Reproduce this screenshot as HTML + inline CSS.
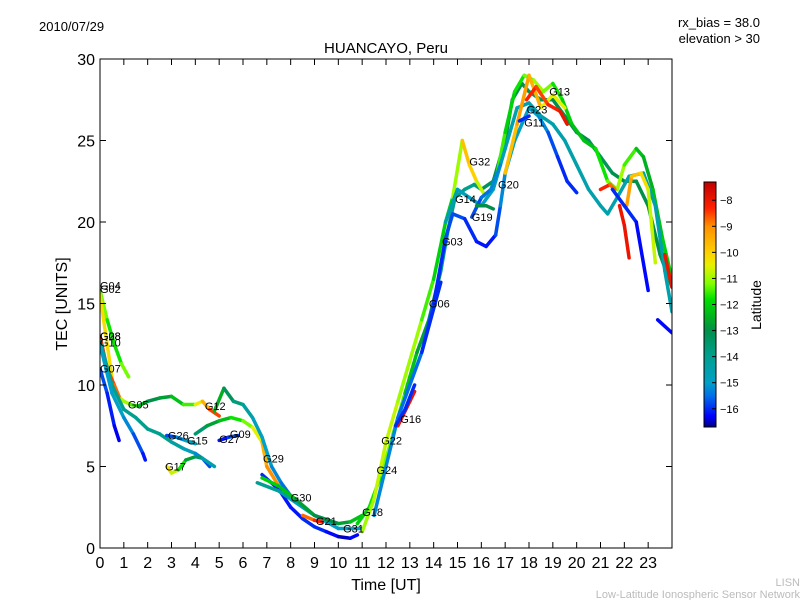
<!DOCTYPE html>
<html><head><meta charset="utf-8"><style>
body{margin:0;background:#fff;}
svg text{font-family:"Liberation Sans",sans-serif;}
</style></head><body>
<svg id="chart" width="800" height="600" xmlns="http://www.w3.org/2000/svg">
<rect width="800" height="600" fill="#fff"/>
<text x="39" y="31" font-size="13">2010/07/29</text>
<text x="760" y="27" font-size="13" text-anchor="end">rx_bias = 38.0</text>
<text x="760" y="43" font-size="13" text-anchor="end">elevation &gt; 30</text>
<text x="386" y="53" font-size="15" text-anchor="middle">HUANCAYO, Peru</text>
<text x="386" y="590" font-size="16" text-anchor="middle">Time [UT]</text>
<text x="67" y="304" font-size="16" text-anchor="middle" transform="rotate(-90 67 304)">TEC [UNITS]</text>
<text x="800" y="586" font-size="11" fill="#bbb" text-anchor="end">LISN</text>
<text x="800" y="598" font-size="11" fill="#bbb" text-anchor="end">Low-Latitude Ionospheric Sensor Network</text>
<defs><clipPath id="pc"><rect x="100" y="59" width="572" height="489"/></clipPath>
<linearGradient id="cbg" x1="0" y1="1" x2="0" y2="0"></linearGradient></defs>
<g id="series" clip-path="url(#pc)"></g>
<g id="labels"></g>
<rect x="100" y="59" width="572" height="489" fill="none" stroke="#000" stroke-width="1"/>
<g id="axes"></g>
<rect x="704" y="182" width="12" height="245" fill="url(#cbg)" stroke="#000" stroke-width="1"/>
<text x="761" y="305" font-size="14" text-anchor="middle" transform="rotate(-90 761 305)">Latitude</text>
<g id="cbticks"></g>
</svg>
<script>
const xTicks=[0,1,2,3,4,5,6,7,8,9,10,11,12,13,14,15,16,17,18,19,20,21,22,23];
const yTicks=[0,5,10,15,20,25,30];
const cbTicks=[-8,-9,-10,-11,-12,-13,-14,-15,-16];
const latMin=-16.7, latMax=-7.3;
const trackG04=[[0,15.8,-11],[0.3,14,-11.5],[0.6,12.5,-12],[0.9,11.3,-11.5],[1.2,10.5,-11]];
const trackG05=[[0,15.5,-10.5],[0.3,12.5,-10],[0.6,9.5,-10.5],[1,9,-11],[1.3,8.8,-11],[1.6,8.7,-12],[2,9,-13],[2.5,9.2,-13],[3,9.3,-12.5],[3.5,8.8,-12],[4,8.8,-11],[4.3,9,-10],[4.6,8.5,-9],[5,8.1,-8]];
const trackG08=[[0,13,-8],[0.3,11,-8.5],[0.6,10,-8.5],[0.8,9.3,-9]];
const trackG10=[[0,12.7,-14],[0.5,10,-14],[1,8.5,-14],[1.5,8,-14],[2,7.3,-14],[2.5,7,-14],[3,6.5,-14],[3.5,6.1,-14.5],[4,5.8,-15],[4.3,5.5,-15.5],[4.6,5,-16]];
const trackG07=[[0,11,-15.5],[0.3,9.5,-16],[0.6,7.5,-16.2],[0.8,6.6,-16.5]];
const trackG28=[[0,12.5,-15],[0.5,9.5,-15],[1,8,-15],[1.4,7,-15.5],[1.8,5.8,-16],[1.9,5.4,-16.3]];
const trackG17=[[2.8,5,-10],[3,4.6,-10.5],[3.3,4.8,-11],[3.6,5.4,-12.5],[4,5.6,-13],[4.3,5.5,-14],[4.8,5,-15]];
const trackG26=[[2.8,6.9,-16],[3.2,6.8,-15.5],[3.6,6.6,-15],[4,6.4,-14.5]];
const trackG15=[[4,7,-14],[4.5,7.5,-13],[5,7.8,-12.5],[5.5,8,-12],[6,7.8,-11.5],[6.4,7.4,-11],[6.8,6.5,-10],[7,5,-9],[7.5,3.8,-9],[8,3,-10]];
const trackG09=[[4.8,8.4,-12],[5.2,9.8,-13],[5.6,9,-13.5],[6,8.8,-14],[6.4,8,-14.5],[6.8,6.8,-15],[7.2,5,-15],[7.6,4,-15.5],[8,3.2,-15.5]];
const trackG27=[[5,6.6,-16.3],[5.4,6.8,-16],[5.8,6.9,-15.5]];
const trackG30=[[6.8,4.5,-16],[7.5,3.6,-16],[8,2.5,-16.3],[8.5,1.8,-16],[9,1.3,-16],[9.5,1,-16],[10,0.7,-16.5],[10.5,0.6,-16.5],[10.8,0.8,-16]];
const trackG29=[[6.6,4,-14],[7.5,3.5,-14],[8,3,-14.5],[9,2,-15],[10,1.2,-15],[11,1.2,-15]];
const trackG31=[[6.8,4.3,-12],[7.5,3.8,-12],[8.2,3,-12.5],[9,2,-13],[10,1.5,-13],[10.5,1.6,-12.5],[11,2,-12]];
const trackG21=[[8.5,2,-9],[9,1.7,-8.5],[9.3,1.6,-8]];
const trackG18=[[10.8,1.5,-12],[11.3,2.5,-12],[11.8,4.5,-11.5],[12.3,7,-11],[12.8,9.5,-12],[13.3,12,-12.5],[13.8,14,-13],[14.3,17,-13.5],[14.6,19.5,-14],[14.9,21.5,-14],[15.3,22,-14],[15.7,22.3,-14],[16,22,-13.5],[16.5,22.5,-13],[17,25,-13],[17.3,27.5,-13],[17.7,28.5,-13],[18,28,-13],[18.5,27.5,-13.5],[19,27.5,-13],[19.5,26.5,-13],[20,25.5,-13],[20.5,25,-13],[21,24,-13.5],[21.5,23,-13],[22,22.5,-13],[22.5,22.5,-13],[23,21,-13],[23.5,18,-13],[24,16,-13]];
const trackG24=[[11,1,-11],[11.5,3,-11],[12,6.5,-10.5],[12.5,9,-11],[13,11.5,-11],[13.5,14,-11],[14,16.5,-12],[14.5,20,-12],[14.8,21.5,-12],[15.2,25,-10],[15.5,23.5,-9.5],[15.8,22.5,-10.5],[16.2,21.5,-11],[16.6,22.5,-11],[17,25.5,-12],[17.4,28,-12],[17.8,29,-11.5],[18.2,28.7,-11],[18.6,28,-11],[19,28.5,-11.5],[19.4,27.5,-12],[19.8,26,-12],[20.3,25,-12.5],[20.8,24.5,-12],[21.3,22.5,-11.5],[21.7,22,-11],[22,23.5,-11],[22.5,24.5,-12],[22.8,24,-12.5],[23.2,22,-12.5],[23.6,19,-12],[24,16.5,-12]];
const trackG03=[[11.5,2,-15],[12.5,8,-15.5],[13.5,12,-15.5],[14,15,-16],[14.5,19,-16],[14.8,20.5,-15.5],[15.3,20.2,-16],[15.8,18.8,-16],[16.2,18.5,-16.3],[16.6,19.2,-16],[16.8,21,-15.5],[17,23,-15],[17.4,25,-15],[17.7,26,-15],[18,27,-15],[18.4,26.5,-15],[18.8,25.5,-15.5],[19.2,24,-16],[19.6,22.5,-16],[20,21.8,-16]];
const trackG14=[[14.5,20,-14.5],[15,22,-14.5],[15.5,21.5,-15],[16,21,-15],[16.5,22,-15],[17,24.5,-14.5],[17.5,27,-14.5],[18,27.3,-14.5],[18.5,26.5,-14.5],[19,26,-14.5],[19.5,25,-14.5],[20,23.5,-14.5],[20.5,22,-14.5],[21,21,-14.5],[21.3,20.5,-14.5],[21.7,21.5,-14.5],[22.2,22.8,-14.5],[22.8,23,-14.5],[23.3,21,-14.5],[23.7,17,-14.5],[24,14.5,-14.5]];
const trackG06=[[13.5,12,-16],[14.3,16.3,-16]];
const trackG16a=[[12.5,7.5,-8],[13,9,-8],[13.2,9.6,-8]];
const trackG16b=[[12.4,7.5,-16],[12.8,8.5,-16],[13.2,10,-16]];
const trackG19=[[15.6,20.3,-16],[16,21.5,-15.5],[16.4,22,-15.5],[16.8,23.5,-15]];
const trackG20=[[15.8,21,-13],[16.2,21,-13],[16.5,20.8,-13]];
const trackG23=[[17,23,-10],[17.5,26,-9.5],[18,29,-9],[18.5,27,-10],[19,27.8,-11],[19.5,27,-10]];
const trackG13=[[17.9,27.5,-8],[18.3,28.3,-8.5],[18.8,27.2,-8.5],[19.3,26.8,-8],[19.6,26,-8]];
const trackG11=[[17.6,26.2,-16],[18,26.5,-16]];
const trackR1=[[21,22,-8],[21.4,22.3,-8.5],[21.6,22,-9]];
const trackR2=[[21.8,21,-8],[22,19.8,-8],[22.2,17.8,-8]];
const trackY1=[[22.1,21,-9],[22.3,22.8,-9.5],[22.7,23,-10],[23,22,-10.5],[23.3,17.5,-11]];
const trackB1=[[21.5,22,-16],[22,21,-16],[22.5,20,-16],[23,15.8,-16.5]];
const trackB2=[[23.4,14,-16.5],[24,13.2,-16]];
const trackR3=[[23.7,18,-8],[24,16,-8]];
const tracks=[trackG04,trackG05,trackG08,trackG10,trackG07,trackG28,trackG17,trackG26,trackG15,trackG09,trackG27,trackG30,trackG29,trackG31,trackG21,trackG18,trackG24,trackG03,trackG14,trackG06,trackG16a,trackG16b,trackG19,trackG20,trackG23,trackG13,trackG11,trackR1,trackR2,trackY1,trackB1,trackB2,trackR3];
const labelNames=["G04","G02","G08","G28","G10","G07","G05","G12","G26","G15","G17","G27","G09","G29","G30","G21","G31","G18","G24","G22","G16","G06","G03","G19","G14","G20","G32","G11","G23","G13"];
const labelT=[0,0,0,0,0,0,1.17,4.4,2.85,3.65,2.73,5,5.45,6.84,8,9.06,10.2,11,11.6,11.8,12.6,13.8,14.35,15.6,14.9,16.7,15.5,17.8,17.9,18.85];
const labelV=[16.1,15.9,13,13,12.6,11,8.8,8.7,6.9,6.6,5,6.7,7,5.5,3.1,1.65,1.2,2.2,4.8,6.6,7.9,15,18.8,20.3,21.4,22.3,23.7,26.1,26.9,28];
const NS="http://www.w3.org/2000/svg";
const X=t=>100+t*572/24, Y=v=>548-v*489/30;
const CY=l=>427-(l-latMin)/(latMax-latMin)*245;
const cmapLat=[-16.7,-16.3,-15.5,-15,-14,-13,-12.5,-11.8,-11.2,-10.5,-10,-9,-8.3,-7.3];
const cmapCol=[[0,0,127],[0,0,255],[0,112,232],[0,160,200],[0,160,144],[0,144,74],[0,176,32],[0,224,0],[128,255,0],[232,240,0],[255,208,0],[255,144,0],[255,32,0],[192,0,0]];
function jet(l){
 if(l<=cmapLat[0]) return `rgb(${cmapCol[0]})`;
 for(let i=0;i<cmapLat.length-1;i++){
  if(l<=cmapLat[i+1]){const f=(l-cmapLat[i])/(cmapLat[i+1]-cmapLat[i]);
   const c=cmapCol[i].map((v,k)=>Math.round(v+(cmapCol[i+1][k]-v)*f));return `rgb(${c})`;}
 }
 return `rgb(${cmapCol[cmapCol.length-1]})`;
}
function mk(tag,attrs,parent){const e=document.createElementNS(NS,tag);for(const k in attrs)e.setAttribute(k,attrs[k]);parent.appendChild(e);return e;}
const grad=document.getElementById('cbg');
cmapLat.forEach((l,i)=>mk('stop',{offset:(l-latMin)/(latMax-latMin),'stop-color':`rgb(${cmapCol[i]})`},grad));
const sg=document.getElementById('series');
tracks.forEach((tr,i)=>{
 const g=mk('g',{},sg);
 
 
 for(let j=0;j<tr.length-1;j++){
  const a=tr[j],b=tr[j+1];
  const s=mk('line',{x1:X(a[0]),y1:Y(a[1]),x2:X(b[0]),y2:Y(b[1]),stroke:jet((a[2]+b[2])/2),'stroke-width':3.5,'stroke-linecap':'round'},g);
  
  
 }
});
const lg=document.getElementById('labels');
labelNames.forEach((n,i)=>{
 const t=mk('text',{x:X(labelT[i]),y:Y(labelV[i])+4,'font-size':11},lg);
 t.textContent=n;
 
 
});
const ax=document.getElementById('axes');
xTicks.forEach(t=>{
 const x=X(t);
 mk('line',{x1:x,y1:548,x2:x,y2:542,stroke:'#000'},ax);
 mk('line',{x1:x,y1:59,x2:x,y2:65,stroke:'#000'},ax);
 const tx=mk('text',{x:x,y:568,'font-size':16,'text-anchor':'middle'},ax);
 tx.textContent=t;
 
 
});
yTicks.forEach(v=>{
 const y=Y(v);
 mk('line',{x1:100,y1:y,x2:106,y2:y,stroke:'#000'},ax);
 mk('line',{x1:672,y1:y,x2:666,y2:y,stroke:'#000'},ax);
 const tx=mk('text',{x:95,y:y+6,'font-size':16,'text-anchor':'end'},ax);
 tx.textContent=v;
 
 
});
const cb=document.getElementById('cbticks');
cbTicks.forEach(l=>{
 const y=CY(l);
 mk('line',{x1:712,y1:y,x2:716,y2:y,stroke:'#000'},cb);
 const tx=mk('text',{x:720,y:y+4,'font-size':11},cb);
 tx.textContent='\u2212'+Math.abs(l);
 
 
});
</script>
</body></html>
